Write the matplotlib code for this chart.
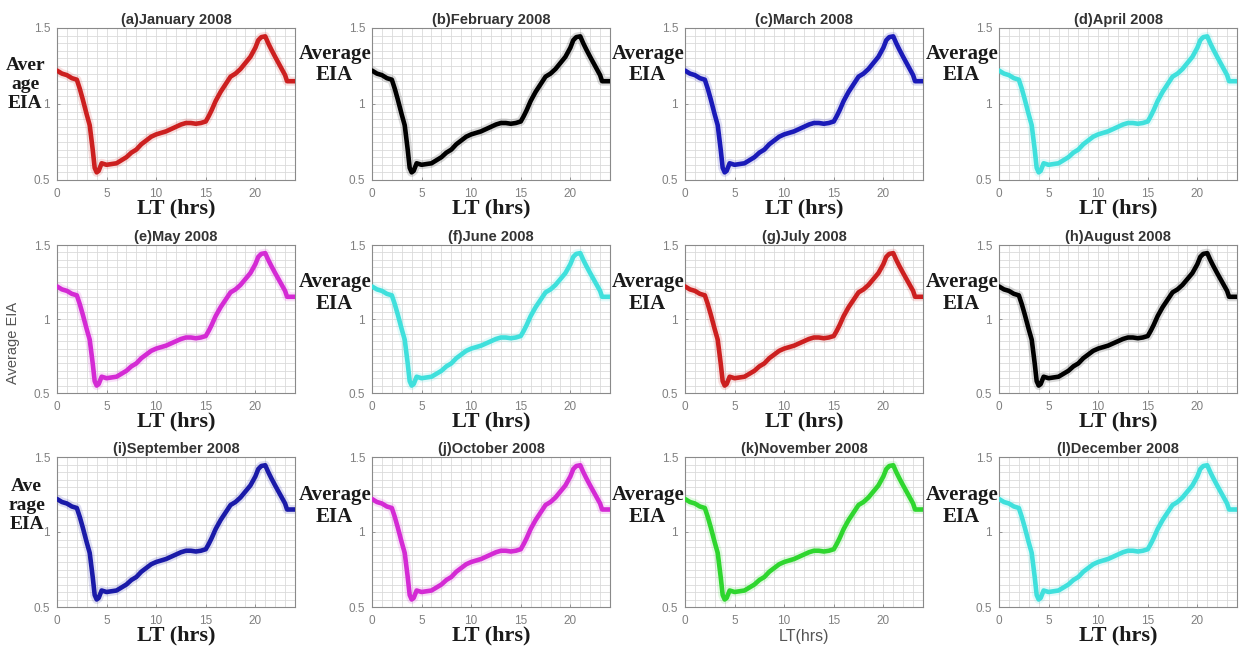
import matplotlib
matplotlib.use("Agg")
import matplotlib.pyplot as plt
from matplotlib.ticker import MultipleLocator

# Local time (hours) and monthly-average EIA strength
lt = [0, 0.5, 1, 1.5, 2, 2.3, 2.6, 3, 3.3, 3.6, 3.8, 4.0, 4.2, 4.5, 5,
      5.5, 6, 6.5, 7, 7.5, 8, 8.5, 9, 9.5, 10, 10.5, 11, 11.5, 12, 12.5,
      13, 13.5, 14, 14.5, 15, 15.3, 15.6, 16, 16.5, 17, 17.5, 18, 18.5,
      19, 19.5, 20, 20.3, 20.6, 21, 21.3, 21.6, 22, 22.5, 23, 23.2, 23.5, 24]
eia = [1.22, 1.20, 1.19, 1.17, 1.16, 1.10, 1.03, 0.93, 0.86, 0.70, 0.58,
       0.55, 0.56, 0.61, 0.60, 0.605, 0.61, 0.63, 0.65, 0.68, 0.70, 0.735,
       0.76, 0.785, 0.80, 0.81, 0.82, 0.835, 0.85, 0.865, 0.875, 0.875,
       0.87, 0.875, 0.885, 0.92, 0.96, 1.02, 1.08, 1.13, 1.18, 1.20, 1.23,
       1.27, 1.31, 1.37, 1.42, 1.44, 1.445, 1.40, 1.36, 1.31, 1.25, 1.19,
       1.15, 1.15, 1.15]

letters = ["a", "b", "c", "d", "e", "f", "g", "h", "i", "j", "k", "l"]
months = ["January", "February", "March", "April", "May", "June", "July",
          "August", "September", "October", "November", "December"]
colors = ["#cc1f1f", "#000000", "#1a1ab8", "#3fe0dc", "#d42ad4", "#3fe0dc",
          "#cc1f1f", "#000000", "#1a1aa8", "#d42ad4", "#2ed62e", "#3fe0dc"]
ylabels = ["Aver\nage\nEIA", "Average\nEIA", "Average\nEIA", "Average\nEIA",
           "Average EIA", "Average\nEIA", "Average\nEIA", "Average\nEIA",
           "Ave\nrage\nEIA", "Average\nEIA", "Average\nEIA", "Average\nEIA"]
xlabels = ["LT (hrs)"] * 10 + ["LT(hrs)", "LT (hrs)"]

W, H = 1241, 656
col_left = [57, 372, 685, 999]
row_top = [28, 245, 457]
row_bot = [180, 393, 607]
ax_w = 238
row_label_y = [0.76, 0.675, 0.675]

fig = plt.figure(figsize=(W / 100, H / 100), dpi=100)
fig.patch.set_facecolor("white")

for i in range(12):
    r, c = divmod(i, 4)
    ax = fig.add_axes([col_left[c] / W, 1 - row_bot[r] / H, ax_w / W,
                       (row_bot[r] - row_top[r]) / H])
    ax.plot(lt, eia, color=colors[i], lw=6.5, alpha=0.14,
            solid_capstyle="round", solid_joinstyle="round", zorder=2)
    ax.plot(lt, eia, color=colors[i], lw=3.3,
            solid_capstyle="round", solid_joinstyle="round", zorder=3)
    ax.set_xlim(0, 24)
    ax.set_ylim(0.5, 1.5)
    ax.set_xticks([0, 5, 10, 15, 20])
    ax.set_yticks([0.5, 1, 1.5])
    ax.set_yticklabels(["0.5", "1", "1.5"])
    ax.xaxis.set_minor_locator(MultipleLocator(1))
    ax.yaxis.set_minor_locator(MultipleLocator(0.05))
    ax.grid(which="both", color="#dadada", lw=0.6, zorder=0)
    ax.set_axisbelow(True)
    ax.tick_params(which="minor", length=0)
    ax.tick_params(which="major", length=2, direction="in", width=0.6,
                   color="#888888", labelsize=8.5, labelcolor="#808080")
    ax.tick_params(axis="x", pad=6)
    ax.tick_params(axis="y", pad=5)
    for tl in ax.get_xticklabels() + ax.get_yticklabels():
        tl.set_family("Liberation Sans")
    for s in ax.spines.values():
        s.set_color("#8a8a8a")
        s.set_linewidth(0.8)

    ax.set_title(f"({letters[i]}){months[i]} 2008", fontsize=10.5,
                 fontweight="bold", color="#333333", pad=3,
                 family="Liberation Sans")

    if xlabels[i] == "LT(hrs)":
        ax.set_xlabel(xlabels[i], fontsize=11.5, color="#555555",
                      family="Liberation Sans", labelpad=1)
    else:
        ax.set_xlabel(xlabels[i], fontsize=16, fontweight="bold",
                      color="#1a1a1a", family="Liberation Serif", labelpad=-1)

    lab = ylabels[i]
    if lab == "Average EIA":
        ax.text(-0.185, 0.34, lab, transform=ax.transAxes, rotation=90,
                ha="center", va="center", fontsize=10.5, color="#555555",
                family="Liberation Sans")
    elif lab.count("\n") == 2:
        ly = 0.63 if r == 0 else 0.675
        ax.text(-0.05, ly, lab, transform=ax.transAxes, ha="right",
                va="center", multialignment="center", fontsize=14,
                fontweight="bold", color="#1a1a1a",
                family="Liberation Serif", linespacing=1.15, zorder=5)
    else:
        ax.text(-0.004, row_label_y[r], lab, transform=ax.transAxes,
                ha="right", va="center", multialignment="center",
                fontsize=15, fontweight="bold", color="#1a1a1a",
                family="Liberation Serif", linespacing=1.1, zorder=5)

fig.savefig("out.png", dpi=100, facecolor="white")
